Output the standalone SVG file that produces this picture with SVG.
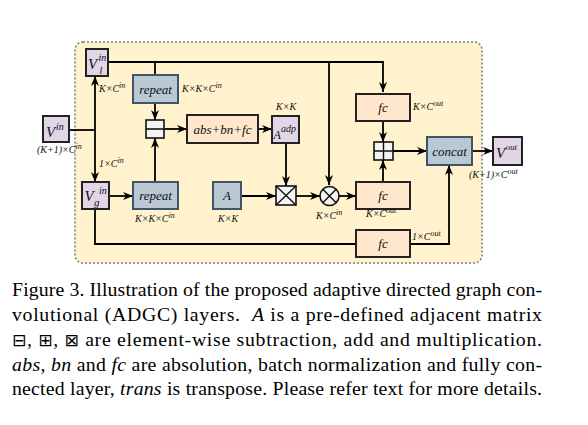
<svg xmlns="http://www.w3.org/2000/svg" width="588" height="425" viewBox="0 0 588 425">
<style>
.bx{stroke-width:2}
.pur{fill:#e1d5e7;stroke:#222}
.blu{fill:#bac8d3;stroke:#3d5568}
.ora{fill:#ffe6cc;stroke:#222}
.op{fill:#f4f4f4;stroke:#111;stroke-width:1.6}
.c{fill:none;stroke:#000;stroke-width:1.8}
.t{font-family:"Liberation Serif",serif;font-style:italic;fill:#111}
.bt{font-size:13px;text-anchor:middle}
.lb{font-size:10px}
.cap{font-family:"Liberation Serif",serif;font-size:19.8px;fill:#000}
.i{font-style:italic}
.sym{font-family:"DejaVu Sans",sans-serif;font-size:17px}
</style>
<defs>
<marker id="a" viewBox="0 0 10 10" refX="10" refY="5" markerWidth="10" markerHeight="10" markerUnits="userSpaceOnUse" orient="auto">
<path d="M0,1 L10,5 L0,9 L3,5 z" fill="#000"/>
</marker>
</defs>
<rect width="588" height="425" fill="#fff"/>
<rect id="panel" x="75" y="42" width="407" height="221" rx="8" fill="#fff2cc" stroke="#7a7a7a" stroke-width="1.5" stroke-dasharray="2,2"/>

<g id="connectors">
<path class="c" d="M108,62 H383 V92" marker-end="url(#a)"/>
<path class="c" d="M155,62 V75"/>
<path class="c" d="M329,62 V185" marker-end="url(#a)"/>
<path class="c" d="M155,103 V120" marker-end="url(#a)"/>
<path class="c" d="M69,130 H95"/>
<path class="c" d="M95,130 V76" marker-end="url(#a)"/>
<path class="c" d="M95,130 V182" marker-end="url(#a)"/>
<path class="c" d="M109,196 H133" marker-end="url(#a)"/>
<path class="c" d="M155,182 V138" marker-end="url(#a)"/>
<path class="c" d="M164,129 H187" marker-end="url(#a)"/>
<path class="c" d="M258,129 H272" marker-end="url(#a)"/>
<path class="c" d="M286,143 V186" marker-end="url(#a)"/>
<path class="c" d="M241,196 H276" marker-end="url(#a)"/>
<path class="c" d="M296,196 H320" marker-end="url(#a)"/>
<path class="c" d="M339,196 H356" marker-end="url(#a)"/>
<path class="c" d="M383,182 V160" marker-end="url(#a)"/>
<path class="c" d="M383,121 V142" marker-end="url(#a)"/>
<path class="c" d="M393,151 H427" marker-end="url(#a)"/>
<path class="c" d="M472,151 H493" marker-end="url(#a)"/>
<path class="c" d="M95,209 V244 H356"/>
<path class="c" d="M410,244 H449 V165" marker-end="url(#a)"/>
</g>

<g id="Vl">
<rect class="bx pur" x="86" y="49" width="22" height="27"/>
<text class="t" x="88" y="69" font-size="15">V</text>
<text class="t" x="98.5" y="61" font-size="10">in</text>
<text class="t" x="99.5" y="74" font-size="10">l</text>
</g>
<g id="Vin">
<rect class="bx pur" x="43" y="116" width="26" height="26"/>
<text class="t" x="46" y="137" font-size="15">V</text>
<text class="t" x="56" y="130" font-size="10">in</text>
</g>
<g id="Vg">
<rect class="bx pur" x="82" y="182" width="27" height="27"/>
<text class="t" x="84.5" y="201" font-size="15">V</text>
<text class="t" x="99" y="194" font-size="10">in</text>
<text class="t" x="94" y="206" font-size="11">g</text>
</g>
<g id="repeat1">
<rect class="bx blu" x="133" y="75" width="45" height="28"/>
<text class="t bt" x="155.5" y="93.5">repeat</text>
</g>
<g id="repeat2">
<rect class="bx blu" x="133" y="182" width="45" height="27"/>
<text class="t bt" x="155.5" y="200">repeat</text>
</g>
<g id="sub">
<rect class="op" x="146" y="120" width="18" height="18"/>
<path d="M146,129 H164" stroke="#111" stroke-width="1.6"/>
</g>
<g id="absbnfc">
<rect class="bx ora" x="187" y="115" width="71" height="28"/>
<text class="t bt" x="222.5" y="133.5">abs+bn+fc</text>
</g>
<g id="Aadp">
<rect class="bx pur" x="272" y="116" width="27" height="27"/>
<text class="t" x="273.5" y="139" font-size="12">A</text>
<text class="t" x="281" y="132" font-size="10">adp</text>
</g>
<g id="A">
<rect class="bx blu" x="213" y="182" width="28" height="27"/>
<text class="t bt" x="227" y="200">A</text>
</g>
<g id="mul">
<rect class="op" x="276" y="186" width="20" height="19"/>
<path d="M276,186 L296,205 M296,186 L276,205" stroke="#111" stroke-width="1.4"/>
</g>
<g id="otimes">
<circle cx="329.5" cy="196" r="9.5" fill="#f4f4f4" stroke="#111" stroke-width="1.6"/>
<path d="M322.8,189.3 L336.2,202.7 M336.2,189.3 L322.8,202.7" stroke="#111" stroke-width="1.4"/>
</g>
<g id="fc1">
<rect class="bx ora" x="356" y="94" width="54" height="27"/>
<text class="t bt" x="383" y="112">fc</text>
</g>
<g id="fc2">
<rect class="bx ora" x="356" y="182" width="54" height="27"/>
<text class="t bt" x="383" y="200">fc</text>
</g>
<g id="fc3">
<rect class="bx ora" x="356" y="230" width="54" height="27"/>
<text class="t bt" x="383" y="248">fc</text>
</g>
<g id="add">
<rect class="op" x="374" y="142" width="19" height="18" fill="#ddd"/>
<path d="M383.5,142 V160 M374,151 H393" stroke="#111" stroke-width="1.4"/>
</g>
<g id="concat">
<rect class="bx blu" x="427" y="137" width="45" height="28"/>
<text class="t bt" x="449.5" y="155.5">concat</text>
</g>
<g id="Vout">
<rect class="bx pur" x="493" y="137" width="29" height="28"/>
<text class="t" x="496" y="158" font-size="15">V</text>
<text class="t" x="505.5" y="150" font-size="9">out</text>
</g>

<g id="labels" class="t lb">
<text x="99" y="92">K×C<tspan font-size="8" dy="-4">in</tspan></text>
<text x="182" y="92">K×K×C<tspan font-size="8" dy="-4">in</tspan></text>
<text x="276" y="110">K×K</text>
<text x="37" y="153">(K+1)×C<tspan font-size="8" dy="-4">in</tspan></text>
<text x="99" y="167">1×C<tspan font-size="8" dy="-4">in</tspan></text>
<text x="135" y="222">K×K×C<tspan font-size="8" dy="-4">in</tspan></text>
<text x="218" y="222">K×K</text>
<text x="316" y="219">K×C<tspan font-size="8" dy="-4">in</tspan></text>
<text x="366" y="217">K×C<tspan font-size="8" dy="-4">out</tspan></text>
<text x="413" y="110">K×C<tspan font-size="8" dy="-4">out</tspan></text>
<text x="412" y="240">1×C<tspan font-size="8" dy="-4">out</tspan></text>
<text x="469" y="178">(K+1)×C<tspan font-size="8" dy="-4">out</tspan></text>
</g>

<g id="caption" class="cap">
<text x="12" y="296" textLength="530" lengthAdjust="spacing">Figure 3. Illustration of the proposed adaptive directed graph con-</text>
<text x="12" y="321" textLength="530" lengthAdjust="spacing">volutional (ADGC) layers. &#160;<tspan class="i">A</tspan> is a pre-defined adjacent matrix</text>
<text x="12" y="346" textLength="530" lengthAdjust="spacing"><tspan class="sym">⊟</tspan>, <tspan class="sym">⊞</tspan>, <tspan class="sym">⊠</tspan> are element-wise subtraction, add and multiplication.</text>
<text x="12" y="371" textLength="530" lengthAdjust="spacing"><tspan class="i">abs</tspan>, <tspan class="i">bn</tspan> and <tspan class="i">fc</tspan> are absolution, batch normalization and fully con-</text>
<text x="12" y="395" textLength="530" lengthAdjust="spacing">nected layer, <tspan class="i">trans</tspan> is transpose. Please refer text for more details.</text>
</g>
</svg>
